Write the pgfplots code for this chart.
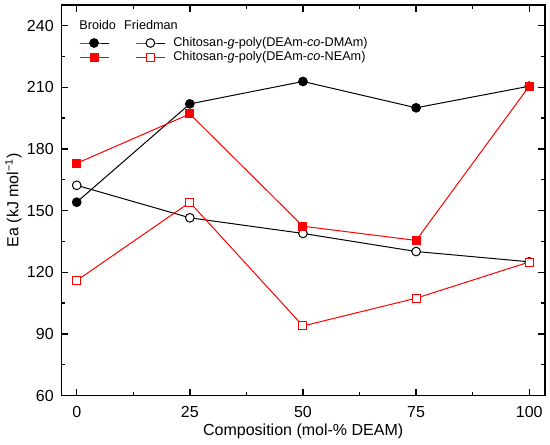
\documentclass[border=0pt]{standalone}
\usepackage{fontspec}
\setmainfont{Liberation Sans}
\usepackage{pgfplots}
\pgfplotsset{compat=1.18}
\begin{document}
\begin{tikzpicture}
\begin{axis}[
  scale only axis, width=362.8pt, height=293pt,
  xmin=-3.4, xmax=103.5, ymin=60, ymax=250,
  xtick={0,25,50,75,100}, ytick={60,90,...,240},
  minor x tick num=1, minor y tick num=1,
  tick align=inside, major tick length=5pt, minor tick length=3pt,
  axis line style={line width=1pt},
  every tick/.style={line width=1pt, black},
  /pgf/number format/assume math mode=true,
  tick label style={font=\fontsize{12}{14}\selectfont},
  xticklabel style={yshift=-4.5pt},
  yticklabel style={xshift=-2.2pt},
  every axis x label/.style={at={(axis description cs:0.5,0)}, yshift=-26.8pt, anchor=center},
  every axis y label/.style={at={(axis description cs:0,0.5)}, xshift=-35.9pt, rotate=90, anchor=center},
  label style={font=\fontsize{12}{14}\selectfont},
  xlabel={Composition (mol-\% DEAM)},
  ylabel={Ea (kJ mol\textsuperscript{−1})},
  legend columns=2,
  legend image code/.code={\draw[mark repeat=2, mark phase=2, #1] plot coordinates {(0pt,0pt) (10.85pt,0pt) (21.7pt,0pt)};},
  legend style={at={(axis description cs:0.0367,0.917)}, anchor=north west, draw=none, fill=none,
    inner sep=0pt, outer sep=0pt, row sep=2.35pt,
    font=\fontsize{9.5}{11}\selectfont,
    nodes={inner sep=0pt, anchor=west},
    /tikz/every odd column/.append style={column sep=6pt},
    /tikz/every even column/.append style={column sep=12.8pt}},
]
\addplot[black, line width=0.75pt, mark=*, mark size=3.25pt] coordinates {(0,154.1) (25,201.9) (50,212.8) (75,200) (100,210.5)};
\addlegendentry{}
\addplot[black, line width=0.75pt, mark=*, mark size=3.25pt, mark options={fill=white}] coordinates {(0,162.3) (25,146.5) (50,138.9) (75,130.1) (100,125.1)};
\addlegendentry{Chitosan-\textit{g}-poly(DEAm-\textit{co}-DMAm)}
\addplot[red, line width=0.75pt, mark=square*, mark size=3pt] coordinates {(0,173) (25,197) (50,142.4) (75,135.5) (100,210.5)};
\addlegendentry{}
\addplot[red, line width=0.75pt, mark=square*, mark size=3pt, mark options={fill=white}] coordinates {(0,116) (25,154) (50,93.9) (75,107.4) (100,125)};
\addlegendentry{Chitosan-\textit{g}-poly(DEAm-\textit{co}-NEAm)}
\node[anchor=base west, font=\fontsize{9.5}{11}\selectfont, inner sep=0pt] at (axis description cs:0.0367,0.937) {Broido};
\node[anchor=base west, font=\fontsize{9.5}{11}\selectfont, inner sep=0pt] at (axis description cs:0.1295,0.937) {Friedman};
\end{axis}
\pgfresetboundingbox
\path (-46pt,-37pt) rectangle (366.5pt,296.75pt);
\end{tikzpicture}
\end{document}
